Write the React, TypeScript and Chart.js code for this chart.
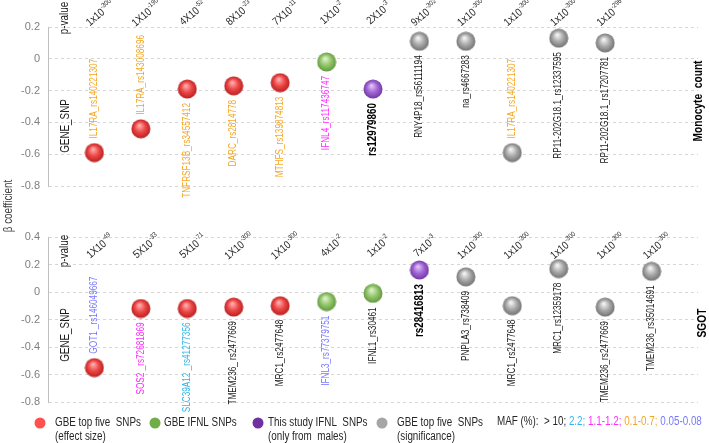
import React, { useEffect, useRef } from "react";
import { Chart, registerables } from "chart.js";
Chart.register(...registerables);

const W = 709;
const H = 443;
const FONT = "'Liberation Sans', Arial, Helvetica, sans-serif";

// ---------- Top panel: Monocyte count ----------
const topGenes = [
  "IL17RA_rs140221307", "IL17RA_rs143008696", "TNFRSF13B_rs34557412", "DARC_rs2814778",
  "MTHFS_rs139874813", "IFNL4_rs117436747", "rs12979860", "RNY4P18_rs56111194",
  "na_rs4667283", "IL17RA_rs140221307", "RP11-202G18.1_rs12337595", "RP11-202G18.1_rs17207781",
];
const topBeta = [-0.59, -0.44, -0.19, -0.17, -0.15, -0.02, -0.19, 0.11, 0.11, -0.59, 0.13, 0.10];
const topPMant = ["1x10", "1X10", "4X10", "8X10", "7X10", "1X10", "2X10", "9x10", "1x10", "1x10", "1x10", "1x10"];
const topPExp = ["-300", "-190", "-52", "-23", "-11", "-2", "-3", "-302", "-300", "-300", "-300", "-296"];
const topGroup = ["effect", "effect", "effect", "effect", "effect", "ifnl", "study", "sig", "sig", "sig", "sig", "sig"];
const topMaf = ["orange", "orange", "orange", "orange", "orange", "magenta", "bold", "black", "black", "orange", "black", "black"];

// ---------- Bottom panel: SGOT ----------
const botGenes = [
  "GOT1 _rs146049667", "SOS2 _rs72681869", "SLC39A12 _rs41277356", "TMEM236_ rs2477669",
  "MRC1_rs2477648", "IFNL3_rs77379751", "IFNL1_rs30461", "rs28416813", "PNPLA3_rs738409",
  "MRC1_rs2477648", "MRC1_rs12359178", "TMEM236_rs2477669", "TMEM236_rs35014691",
];
const botBeta = [-0.55, -0.12, -0.12, -0.11, -0.10, -0.07, -0.01, 0.16, 0.11, -0.10, 0.17, -0.11, 0.15];
const botPMant = ["1X10", "5X10", "5X10", "1X10", "1X10", "4x10", "1x10", "7x10", "1x10", "1x10", "1x10", "1x10", "1x10"];
const botPExp = ["-49", "-33", "-71", "-300", "-300", "-2", "-2", "-3", "-300", "-300", "-300", "-300", "-300"];
const botGroup = ["effect", "effect", "effect", "effect", "effect", "ifnl", "ifnl", "study", "sig", "sig", "sig", "sig", "sig"];
const botMaf = ["blue", "magenta", "cyan", "black", "black", "blue", "black", "bold", "black", "black", "black", "black", "black"];

const yTicksTop = { min: -0.8, max: 0.2 };
const yTicksBot = { min: -0.8, max: 0.4 };

const legendLabels = [
  { key: "effect", lines: ["GBE top five  SNPs", "(effect size)"] },
  { key: "ifnl", lines: ["GBE IFNL SNPs"] },
  { key: "study", lines: ["This study IFNL  SNPs", "(only from  males)"] },
  { key: "sig", lines: ["GBE top five  SNPs", "(significance)"] },
];
const mafLegend = [
  { text: "MAF (%):  > 10; ", key: "black" },
  { text: "2.2; ", key: "cyan" },
  { text: "1.1-1.2; ", key: "magenta" },
  { text: "0.1-0.7; ", key: "orange" },
  { text: "0.05-0.08", key: "blue" },
];

// ---------- styles ----------
const SPHERE: Record<string, string[]> = {
  effect: ["#ffb0b0", "#ee4848", "#b51d1d"],
  ifnl: ["#e0f2cc", "#95c76e", "#5d963a"],
  study: ["#e2c6f6", "#a266d6", "#6e35a0"],
  sig: ["#f6f6f6", "#ababab", "#6f6f6f"],
};
const LEGEND_DOT: Record<string, string> = {
  effect: "#ff5050",
  ifnl: "#70ad47",
  study: "#7030a0",
  sig: "#a6a6a6",
};
const MAF_COLOR: Record<string, string> = {
  black: "#1a1a1a",
  bold: "#000000",
  orange: "#f5a623",
  magenta: "#ff2cff",
  cyan: "#2fb6e8",
  blue: "#7777ff",
};

const sphereCache: Record<string, HTMLCanvasElement> = {};
function sphere(key: string): HTMLCanvasElement {
  if (sphereCache[key]) return sphereCache[key];
  const c = document.createElement("canvas");
  c.width = 20;
  c.height = 20;
  const g = c.getContext("2d")!;
  const [l, b, d] = SPHERE[key];
  const grad = g.createRadialGradient(8.5, 6.5, 0.5, 10, 10, 10);
  grad.addColorStop(0, l);
  grad.addColorStop(0.5, b);
  grad.addColorStop(1, d);
  g.fillStyle = grad;
  g.beginPath();
  g.arc(10, 10, 9.5, 0, Math.PI * 2);
  g.fill();
  sphereCache[key] = c;
  return c;
}

function txt(
  ctx: CanvasRenderingContext2D,
  s: string,
  x: number,
  y: number,
  o: { font: string; color: string; align?: CanvasTextAlign; baseline?: CanvasTextBaseline; rot?: number; sx?: number }
) {
  ctx.save();
  ctx.translate(x, y);
  if (o.rot) ctx.rotate(o.rot);
  ctx.scale(o.sx ?? 1, 1);
  ctx.font = o.font;
  ctx.fillStyle = o.color;
  ctx.textAlign = o.align ?? "left";
  ctx.textBaseline = o.baseline ?? "middle";
  ctx.fillText(s, 0, 0);
  ctx.restore();
}

function drawP(ctx: CanvasRenderingContext2D, x: number, y: number, mant: string, exp: string) {
  ctx.save();
  ctx.translate(x, y);
  ctx.rotate((-40 * Math.PI) / 180);
  ctx.scale(0.85, 1);
  ctx.fillStyle = "#262626";
  ctx.textAlign = "left";
  ctx.textBaseline = "alphabetic";
  ctx.font = `11px ${FONT}`;
  const w1 = ctx.measureText(mant).width;
  ctx.font = `7px ${FONT}`;
  const w2 = ctx.measureText(exp).width;
  const start = -(w1 + w2) / 2;
  ctx.font = `11px ${FONT}`;
  ctx.fillText(mant, start, 4);
  ctx.font = `7px ${FONT}`;
  ctx.fillText(exp, start + w1 + 0.5, -1);
  ctx.restore();
}

const ROT = -Math.PI / 2;

function panelPlugin(p: {
  genes: string[];
  beta: number[];
  pm: string[];
  pe: string[];
  maf: string[];
  pY: number;
  pvalLabelY: number;
  geneLabelY: number;
  side: string;
  sideX: number;
  sideY: number;
  extra?: (ctx: CanvasRenderingContext2D) => void;
}) {
  return {
    id: "panelLabels",
    afterDraw(chart: any) {
      const ctx: CanvasRenderingContext2D = chart.ctx;
      const xs = chart.scales.x;
      const ys = chart.scales.y;
      p.genes.forEach((g, i) => {
        const px = xs.getPixelForValue(i + 1);
        const py = ys.getPixelForValue(p.beta[i]);
        const above = p.beta[i] <= -0.4;
        const bold = p.maf[i] === "bold";
        txt(ctx, g, px, above ? py - 14 : py + 14, {
          font: bold ? `bold 12px ${FONT}` : `10px ${FONT}`,
          color: MAF_COLOR[p.maf[i]],
          align: above ? "left" : "right",
          baseline: "middle",
          rot: ROT,
          sx: 0.82,
        });
        drawP(ctx, px + 5, p.pY, p.pm[i], p.pe[i]);
      });
      txt(ctx, "p-value", 65, p.pvalLabelY, { font: `12px ${FONT}`, color: "#1a1a1a", align: "center", rot: ROT, sx: 0.82 });
      txt(ctx, "GENE_SNP", 66, p.geneLabelY, { font: `12px ${FONT}`, color: "#1a1a1a", align: "center", rot: ROT, sx: 0.82 });
      txt(ctx, p.side, p.sideX, p.sideY, { font: `bold 12px ${FONT}`, color: "#000", align: "center", rot: ROT, sx: 0.85 });
      if (p.extra) p.extra(ctx);
    },
  };
}

function drawLegend(ctx: CanvasRenderingContext2D) {
  const dotX = [40, 155, 258, 382];
  const textX = [55, 164, 268, 397];
  legendLabels.forEach((it, i) => {
    ctx.beginPath();
    ctx.fillStyle = LEGEND_DOT[it.key];
    ctx.arc(dotX[i], 423, 5.5, 0, Math.PI * 2);
    ctx.fill();
    it.lines.forEach((ln, j) => {
      txt(ctx, ln, textX[i], 423 + j * 14, { font: `12px ${FONT}`, color: "#262626", sx: 0.82 });
    });
  });
  let x = 497;
  ctx.save();
  ctx.font = `12px ${FONT}`;
  mafLegend.forEach((m) => {
    const w = ctx.measureText(m.text).width * 0.82;
    txt(ctx, m.text, x, 422, { font: `12px ${FONT}`, color: m.key === "black" ? "#262626" : MAF_COLOR[m.key], sx: 0.82 });
    x += w;
  });
  ctx.restore();
  txt(ctx, "β coefficient", 9, 206, { font: `12px ${FONT}`, color: "#404040", align: "center", rot: ROT, sx: 0.82 });
}

function makeConfig(
  beta: number[],
  groups: string[],
  range: { min: number; max: number },
  padTop: number,
  padBottom: number,
  plugin: any
): any {
  return {
    type: "scatter",
    data: {
      datasets: [
        {
          data: beta.map((v, i) => ({ x: i + 1, y: v })),
          pointStyle: (c: any) => sphere(groups[c.dataIndex]),
          pointRadius: 10,
          pointHoverRadius: 10,
        },
      ],
    },
    options: {
      responsive: false,
      animation: false,
      events: [],
      devicePixelRatio: 1,
      layout: { padding: { top: padTop, bottom: padBottom, left: 0, right: 4 } },
      plugins: { legend: { display: false }, tooltip: { enabled: false } },
      scales: {
        x: { type: "linear", min: 0, max: 14, display: false },
        y: {
          min: range.min,
          max: range.max,
          afterFit: (s: any) => {
            s.width = 48;
          },
          ticks: {
            stepSize: 0.2,
            color: "#7f7f7f",
            padding: 8,
            font: { family: FONT, size: 11 },
            callback: (v: number) => (Math.round(v * 10) / 10).toString(),
          },
          grid: { color: "#d6d6d6", drawTicks: false, lineWidth: 1 },
          border: { display: true, color: "#bfbfbf", dash: [3, 3] },
        },
      },
    },
    plugins: [plugin],
  };
}

export default function App() {
  const topRef = useRef<HTMLCanvasElement>(null);
  const botRef = useRef<HTMLCanvasElement>(null);

  useEffect(() => {
    const c1 = new Chart(
      topRef.current!,
      makeConfig(
        topBeta,
        topGroup,
        yTicksTop,
        27,
        H - 186,
        panelPlugin({
          genes: topGenes,
          beta: topBeta,
          pm: topPMant,
          pe: topPExp,
          maf: topMaf,
          pY: 13,
          pvalLabelY: 18,
          geneLabelY: 126,
          side: "Monocyte  count",
          sideX: 699,
          sideY: 101,
        })
      )
    );
    const c2 = new Chart(
      botRef.current!,
      makeConfig(
        botBeta,
        botGroup,
        yTicksBot,
        237,
        H - 402,
        panelPlugin({
          genes: botGenes,
          beta: botBeta,
          pm: botPMant,
          pe: botPExp,
          maf: botMaf,
          pY: 246,
          pvalLabelY: 251,
          geneLabelY: 335,
          side: "SGOT",
          sideX: 703,
          sideY: 323,
          extra: drawLegend,
        })
      )
    );
    return () => {
      c1.destroy();
      c2.destroy();
    };
  }, []);

  const cs: React.CSSProperties = { position: "absolute", left: 0, top: 0, width: W, height: H };
  return (
    <div style={{ position: "absolute", left: 0, top: 0, width: W, height: H, background: "#fff", overflow: "hidden" }}>
      <canvas ref={topRef} width={W} height={H} style={cs} />
      <canvas ref={botRef} width={W} height={H} style={cs} />
    </div>
  );
}
